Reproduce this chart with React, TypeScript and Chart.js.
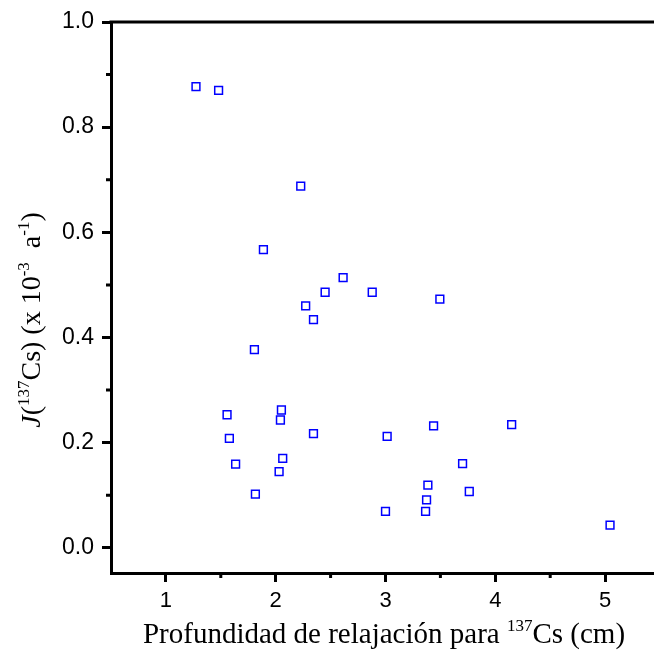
import React, { useEffect, useRef } from 'react';
import { Chart, registerables } from 'chart.js';

Chart.register(...registerables);

// Relaxation depth for 137Cs (cm)
const depthCm = [
  1.274, 1.48, 2.228, 1.888, 2.614, 2.45, 2.879, 3.495, 2.273, 2.344,
  1.806, 1.557, 2.052, 2.043, 1.578, 2.344, 3.015, 1.635, 2.064, 2.031,
  1.815, 3.0, 3.438, 4.149, 3.702, 3.386, 3.763, 3.374, 3.365, 5.045,
];
// J(137Cs) (x 10^-3 a^-1)
const fluxJ = [
  0.877, 0.87, 0.688, 0.567, 0.514, 0.486, 0.486, 0.473, 0.46, 0.434,
  0.377, 0.253, 0.262, 0.243, 0.208, 0.217, 0.212, 0.159, 0.17, 0.145,
  0.102, 0.069, 0.232, 0.234, 0.16, 0.119, 0.107, 0.091, 0.069, 0.043,
];

const xTickValues = [1, 2, 3, 4, 5];
const xMinorTickValues = [1.5, 2.5, 3.5, 4.5];
const yTickValues = [0, 0.2, 0.4, 0.6, 0.8, 1.0];
const yMinorTickValues = [0.1, 0.3, 0.5, 0.7, 0.9];

type Run = { t: string; sup?: boolean; italic?: boolean };

const xTitleRuns: Run[] = [
  { t: 'Profundidad de relajación para ' },
  { t: '137', sup: true },
  { t: 'Cs (cm)' },
];
const yTitleRuns: Run[] = [
  { t: 'J', italic: true },
  { t: '(' },
  { t: '137', sup: true },
  { t: 'Cs) (x 10' },
  { t: '-3', sup: true },
  { t: '  a' },
  { t: '-1', sup: true },
  { t: ')' },
];

const SERIF = '"Liberation Serif", "Times New Roman", serif';
const SANS = '"Liberation Sans", Arial, sans-serif';

function drawRich(ctx: CanvasRenderingContext2D, runs: Run[], cx: number, baseY: number, size: number) {
  const supSize = Math.round(size * 0.6);
  const fontFor = (r: Run) => `${r.italic ? 'italic ' : ''}${r.sup ? supSize : size}px ${SERIF}`;
  const widths = runs.map((r) => {
    ctx.font = fontFor(r);
    return ctx.measureText(r.t).width;
  });
  const total = widths.reduce((a, b) => a + b, 0);
  let x = cx - total / 2;
  ctx.textAlign = 'left';
  ctx.textBaseline = 'alphabetic';
  runs.forEach((r, i) => {
    ctx.font = fontFor(r);
    ctx.fillText(r.t, x, baseY - (r.sup ? size * 0.4 : 0));
    x += widths[i];
  });
}

const decorPlugin = {
  id: 'decor',
  afterDraw(chart: any) {
    const ctx: CanvasRenderingContext2D = chart.ctx;
    const { left, right, top, bottom } = chart.chartArea;
    const xs = chart.scales.x;
    const ys = chart.scales.y;
    ctx.save();
    ctx.strokeStyle = '#000';
    ctx.lineWidth = 3;
    // top and right frame lines
    ctx.beginPath();
    ctx.moveTo(left - 1.5, top);
    ctx.lineTo(right, top);
    ctx.lineTo(right, bottom);
    ctx.stroke();
    // minor ticks
    ctx.beginPath();
    xMinorTickValues.forEach((v) => {
      const px = xs.getPixelForValue(v);
      ctx.moveTo(px, bottom);
      ctx.lineTo(px, bottom + 5);
    });
    yMinorTickValues.forEach((v) => {
      const py = ys.getPixelForValue(v);
      ctx.moveTo(left, py);
      ctx.lineTo(left - 5, py);
    });
    ctx.stroke();
    // titles
    ctx.fillStyle = '#000';
    drawRich(ctx, xTitleRuns, 384, 643, 29);
    ctx.translate(40, 320);
    ctx.rotate(-Math.PI / 2);
    drawRich(ctx, yTitleRuns, 0, 0, 28);
    ctx.restore();
  },
};

export default function App() {
  const ref = useRef<HTMLCanvasElement | null>(null);
  useEffect(() => {
    if (!ref.current) return;
    const chart = new Chart(ref.current, {
      type: 'scatter',
      data: {
        datasets: [
          {
            data: depthCm.map((x, i) => ({ x, y: fluxJ[i] })),
            pointStyle: 'rect',
            pointRadius: 5.5,
            pointBorderWidth: 1.5,
            borderColor: '#0000ff',
            backgroundColor: 'rgba(0,0,0,0)',
          },
        ],
      },
      options: {
        responsive: false,
        animation: false,
        events: [],
        layout: { padding: { left: 0, top: 22, right: 20, bottom: 0 } },
        plugins: { legend: { display: false }, tooltip: { enabled: false } },
        scales: {
          x: {
            type: 'linear',
            min: 0.5,
            max: 5.5,
            afterBuildTicks: (s: any) => {
              s.ticks = xTickValues.map((v) => ({ value: v }));
            },
            afterFit: (s: any) => {
              s.height = 84;
            },
            ticks: {
              color: '#000',
              font: { family: SANS, size: 22 },
              padding: 6,
              callback: (v: any) => String(v),
              maxRotation: 0,
            },
            grid: { drawOnChartArea: false, color: '#000', lineWidth: 3, tickLength: 9 },
            border: { display: true, color: '#000', width: 3 },
          },
          y: {
            type: 'linear',
            min: -0.048,
            max: 1.0,
            afterBuildTicks: (s: any) => {
              s.ticks = yTickValues.map((v) => ({ value: v }));
            },
            afterFit: (s: any) => {
              s.width = 111;
            },
            ticks: {
              color: '#000',
              font: { family: SANS, size: 23 },
              padding: 8,
              callback: (v: any) => Number(v).toFixed(1),
            },
            grid: { drawOnChartArea: false, color: '#000', lineWidth: 3, tickLength: 9 },
            border: { display: true, color: '#000', width: 3 },
          },
        },
      },
      plugins: [decorPlugin],
    });
    return () => chart.destroy();
  }, []);
  return (
    <div style={{ position: 'fixed', left: 0, top: 0, width: 654, height: 657, overflow: 'hidden', background: '#fff' }}>
      <canvas ref={ref} width={680} height={657} style={{ display: 'block' }} />
    </div>
  );
}
